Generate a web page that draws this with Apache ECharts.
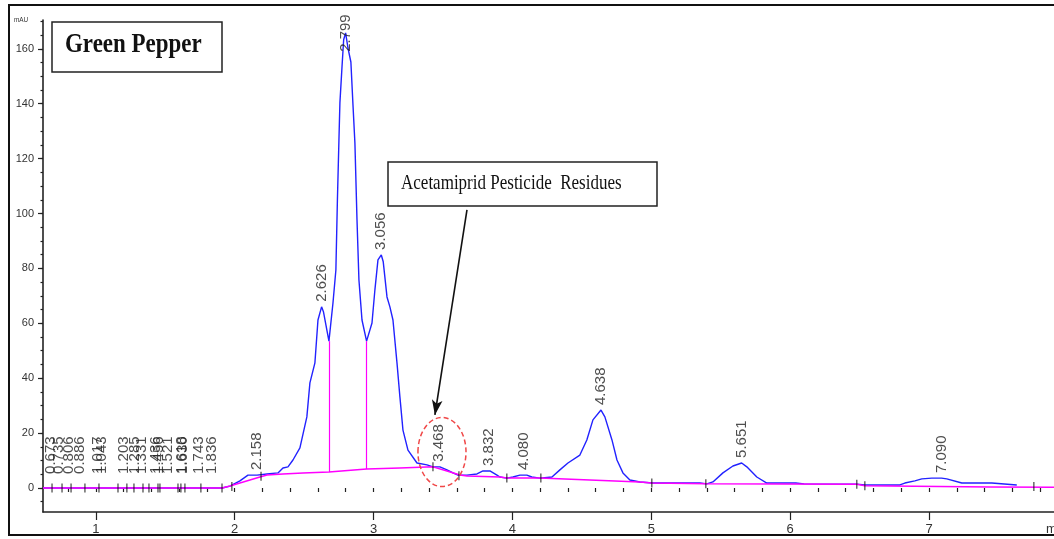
<!DOCTYPE html>
<html><head><meta charset="utf-8">
<script src="https://cdn.jsdelivr.net/npm/echarts@6/dist/echarts.min.js"></script>
<style>html,body{margin:0;padding:0;background:#fff}#c{width:1054px;height:539px}</style>
</head><body><div id="c"></div>
<script>
// ---- chromatogram trace (min, mAU) ----
const traceTimes = [0.62,1.91,1.966,2.038,2.096,2.161,2.233,2.312,2.348,2.384,2.42,2.47,2.52,2.542,2.578,2.6,2.626,2.64,2.679,2.708,2.729,2.74,2.751,2.758,2.773,2.785,2.799,2.816,2.837,2.852,2.866,2.881,2.895,2.917,2.95,2.989,3.01,3.032,3.056,3.07,3.097,3.118,3.14,3.169,3.19,3.212,3.248,3.313,3.385,3.428,3.478,3.529,3.572,3.608,3.673,3.745,3.788,3.838,3.889,3.91,3.96,4.004,4.054,4.104,4.14,4.198,4.285,4.342,4.4,4.486,4.536,4.58,4.638,4.666,4.717,4.753,4.796,4.846,4.918,5.012,5.35,5.4,5.444,5.516,5.588,5.651,5.688,5.76,5.832,6.041,6.1,6.48,6.538,6.79,6.826,6.898,6.948,7.02,7.09,7.128,7.236,7.452,7.459,7.632];
const traceValues = [0,0,0.7,2.6,4.7,4.7,5.1,5.5,7.3,7.7,10.2,14.6,25.9,38.3,45.6,61.2,66,64.1,53.5,67.4,79.4,105,126.8,140.3,153.4,163.3,165.8,160.3,155.2,139.6,125.7,97.7,75.8,61.2,53.5,60.1,72.2,83.1,84.9,82.4,69.6,66,61.2,45.6,33.2,21.1,13.8,9.1,8.4,7.7,7.7,6.6,5.5,4.7,4.7,5.1,6.2,6.2,4.7,4,3.6,4,4.7,4.7,4,3.6,4,6.6,9.1,12,17.5,24.8,28.4,25.9,17.5,10.2,5.5,2.9,2.2,1.8,1.8,1.5,2.2,5.5,8,9.1,7.7,4,1.8,1.8,1.5,1.4,1.1,1.1,1.8,2.6,3.3,3.6,3.6,3.3,1.8,1.8,1.1,1.1];

// ---- integration baseline ----
const baseTimes = [0.62,1.91,1.966,2.182,2.233,2.348,2.492,2.679,2.95,3.19,3.428,3.529,3.622,3.673,3.91,3.96,4.198,4.558,4.918,5.004,5.4,6.48,6.538,7.44,7.9];
const baseValues = [0,0,0.7,4,4.7,5.1,5.5,5.8,6.9,7.3,7.7,6.2,4.7,4.4,4,3.6,3.6,2.9,2.2,1.8,1.5,1.4,0.8,0.4,0.3];

// ---- peak drop lines (time, baseline, valley) ----
const dropTimes = [2.679, 2.95];
const dropBottoms = [5.8, 6.9];
const dropTops = [53.5, 53.5];

// ---- peak labels ----
const peakLabels = ['0.673','0.735','0.806','0.886','1.017','1.043','1.203','1.285','1.331','1.436','1.456','1.521','1.618','1.630','1.743','1.836','2.158','2.626','2.799','3.056','3.468','3.832','4.080','4.638','5.651','7.090'];
const peakTimes = [0.673,0.735,0.806,0.886,1.017,1.043,1.203,1.285,1.331,1.436,1.456,1.521,1.618,1.630,1.743,1.836,2.158,2.626,2.799,3.056,3.468,3.832,4.080,4.638,5.651,7.090];
const peakHeights = [0,0,0,0,0,0,0,0,0,0,0,0,0,0,0,0,4.7,66,165.8,84.9,7.7,6.2,4.7,28.4,9.1,3.6];

// ---- integration event ticks ----
const eventTimes = [0.685,0.757,0.822,0.922,1.023,1.16,1.224,1.275,1.34,1.383,1.448,1.462,1.592,1.613,1.642,1.757,1.909,1.98,2.19,3.428,3.615,3.96,4.205,5.004,5.393,6.48,6.538,7.755];
const eventValues = [0,0,0,0,0,0,0,0,0,0,0,0,0,0,0,0,0,0.5,4.3,7.7,4.5,3.6,3.6,1.8,1.5,1.4,0.8,0.5];

// ---- axes ----
const xMajor = [1,2,3,4,5,6,7];
const xTickLabels = ['1','2','3','4','5','6','7'];
const xMinor = [0.8,1.0,1.2,1.4,1.6,1.8,2.0,2.2,2.4,2.6,2.8,3.0,3.2,3.4,3.6,3.8,4.0,4.2,4.4,4.6,4.8,5.0,5.2,5.4,5.6,5.8,6.0,6.2,6.4,6.6,6.8,7.0,7.2,7.4,7.6,7.8];
const yMajor = [0,20,40,60,80,100,120,140,160];
const yTickLabels = ['0','20','40','60','80','100','120','140','160'];
const yMinor = [-5,0,5,10,15,20,25,30,35,40,45,50,55,60,65,70,75,80,85,90,95,100,105,110,115,120,125,130,135,140,145,150,155,160,165,170];

// ---- annotations (data coordinates) ----
const arrowFrom = [3.673, 101.3];
const arrowTo = [3.442, 26.6];
const ellipseCenter = [3.493, 13.1];
const ellipseHalf = [0.173, 12.6];

const chart = echarts.init(document.getElementById('c'));
const AX = '#222';

const option = {
  animation: false,
  backgroundColor: '#fff',
  grid: { left: 43, right: 0, top: 20, bottom: 27, containLabel: false },
  xAxis: [
    { type: 'value', position: 'bottom', min: 0.62, max: 7.9,
      axisLine: { show: true, onZero: false, lineStyle: { color: AX, width: 1.6 } },
      axisTick: { show: true, customValues: xMajor, length: 8, lineStyle: { color: AX, width: 1.2 } },
      axisLabel: { show: true, customValues: xMajor, margin: 11, fontSize: 13, color: '#333', fontFamily: 'Liberation Sans',
        formatter: v => xTickLabels[xMajor.indexOf(Math.round(v))] },
      splitLine: { show: false } },
    { type: 'value', position: 'bottom', min: 0.62, max: 7.9,
      axisLine: { show: false },
      axisTick: { show: true, customValues: xMinor, length: 4, lineStyle: { color: AX, width: 1.2 } },
      axisLabel: { show: false }, splitLine: { show: false } }
  ],
  yAxis: [
    { type: 'value', position: 'left', min: -8.75, max: 170.5,
      axisLine: { show: true, onZero: false, lineStyle: { color: AX, width: 1.6 } },
      axisTick: { show: true, customValues: yMajor, length: 5, lineStyle: { color: AX, width: 1.2 } },
      axisLabel: { show: true, customValues: yMajor, margin: 9, fontSize: 11, color: '#333', fontFamily: 'Liberation Sans',
        formatter: v => yTickLabels[yMajor.indexOf(Math.round(v))] },
      splitLine: { show: false } },
    { type: 'value', position: 'left', min: -8.75, max: 170.5,
      axisLine: { show: false },
      axisTick: { show: true, customValues: yMinor, length: 2.5, lineStyle: { color: AX, width: 1.2 } },
      axisLabel: { show: false }, splitLine: { show: false } }
  ],
  series: [
    { type: 'line', name: 'signal', xAxisIndex: 0, yAxisIndex: 0, z: 2,
      data: traceTimes.map((t, i) => [t, traceValues[i]]),
      symbol: 'none', lineStyle: { color: '#2222ff', width: 1.4 } },
    { type: 'line', name: 'baseline', xAxisIndex: 0, yAxisIndex: 0, z: 3,
      data: baseTimes.map((t, i) => [t, baseValues[i]]),
      symbol: 'none', lineStyle: { color: '#ff00ff', width: 1.5 },
      markLine: { silent: true, symbol: ['none', 'none'], animation: false,
        lineStyle: { color: '#ff00ff', width: 1.2, type: 'solid' }, label: { show: false },
        data: dropTimes.map((t, i) => [{ coord: [t, dropBottoms[i]] }, { coord: [t, dropTops[i]] }]) } },
    { type: 'scatter', name: 'events', xAxisIndex: 0, yAxisIndex: 0, z: 4,
      data: eventTimes.map((t, i) => [t, eventValues[i]]),
      symbol: 'rect', symbolSize: [1.2, 9], itemStyle: { color: '#111' } },
    { type: 'scatter', name: 'peaks', xAxisIndex: 0, yAxisIndex: 0, z: 5,
      data: peakTimes.map((t, i) => {
        const item = { name: peakLabels[i], value: [t, peakHeights[i]] };
        if (t < 2) item.label = { distance: 14 };
        if (peakLabels[i] === '2.799') item.label = { distance: -19 };
        return item;
      }),
      symbol: 'circle', symbolSize: 0.1, itemStyle: { color: 'transparent' },
      label: { show: true, formatter: p => p.name, position: 'top', distance: 5, rotate: 90,
        align: 'left', verticalAlign: 'middle', fontSize: 15, fontFamily: 'Liberation Sans', color: '#222' },
      markLine: { silent: true, animation: false, symbol: ['none', 'arrow'], symbolSize: [8, 15],
        lineStyle: { color: '#111', width: 1.6, type: 'solid' }, label: { show: false },
        data: [[{ coord: arrowFrom }, { coord: arrowTo }]] } }
  ]
};
chart.setOption(option);

const c = chart.convertToPixel({ gridIndex: 0 }, ellipseCenter);
const e = chart.convertToPixel({ gridIndex: 0 }, [ellipseCenter[0] + ellipseHalf[0], ellipseCenter[1] + ellipseHalf[1]]);
const rx = Math.abs(e[0] - c[0]), ry = Math.abs(c[1] - e[1]);

chart.setOption({
  graphic: [
    { type: 'rect', id: 'frame', shape: { x: 9, y: 5, width: 1070, height: 530 }, silent: true, z: 0,
      style: { fill: 'none', stroke: '#111', lineWidth: 2 } },
    { type: 'ellipse', id: 'ell', shape: { cx: c[0], cy: c[1], rx: rx, ry: ry }, silent: true, z: 10,
      style: { fill: 'none', stroke: '#f04848', lineWidth: 1.5, lineDash: [5, 3] } },
    { type: 'rect', id: 'titlebox', shape: { x: 52, y: 22, width: 170, height: 50 }, silent: true, z: 10,
      style: { fill: '#fff', stroke: '#222', lineWidth: 1.5 } },
    { type: 'text', id: 'title', x: 65, y: 45, scaleX: 0.82, silent: true, z: 11,
      style: { text: 'Green Pepper', fontFamily: 'Liberation Serif', fontWeight: 'bold', fontSize: 28,
        fill: '#111', align: 'left', verticalAlign: 'middle' } },
    { type: 'rect', id: 'notebox', shape: { x: 388, y: 162, width: 269, height: 44 }, silent: true, z: 10,
      style: { fill: '#fff', stroke: '#222', lineWidth: 1.5 } },
    { type: 'text', id: 'note', x: 401, y: 183, scaleX: 0.81, silent: true, z: 11,
      style: { text: 'Acetamiprid Pesticide  Residues', fontFamily: 'Liberation Serif', fontSize: 21,
        fill: '#111', align: 'left', verticalAlign: 'middle' } },
    { type: 'text', id: 'mau', x: 14, y: 20, scaleX: 0.8, silent: true, z: 11,
      style: { text: 'mAU', fontFamily: 'Liberation Sans', fontSize: 8, fill: '#333', align: 'left', verticalAlign: 'middle' } },
    { type: 'text', id: 'minu', x: 1046, y: 529, silent: true, z: 11,
      style: { text: 'min', fontFamily: 'Liberation Sans', fontSize: 13, fill: '#333', align: 'left', verticalAlign: 'middle' } }
  ]
});
</script>
</body></html>
